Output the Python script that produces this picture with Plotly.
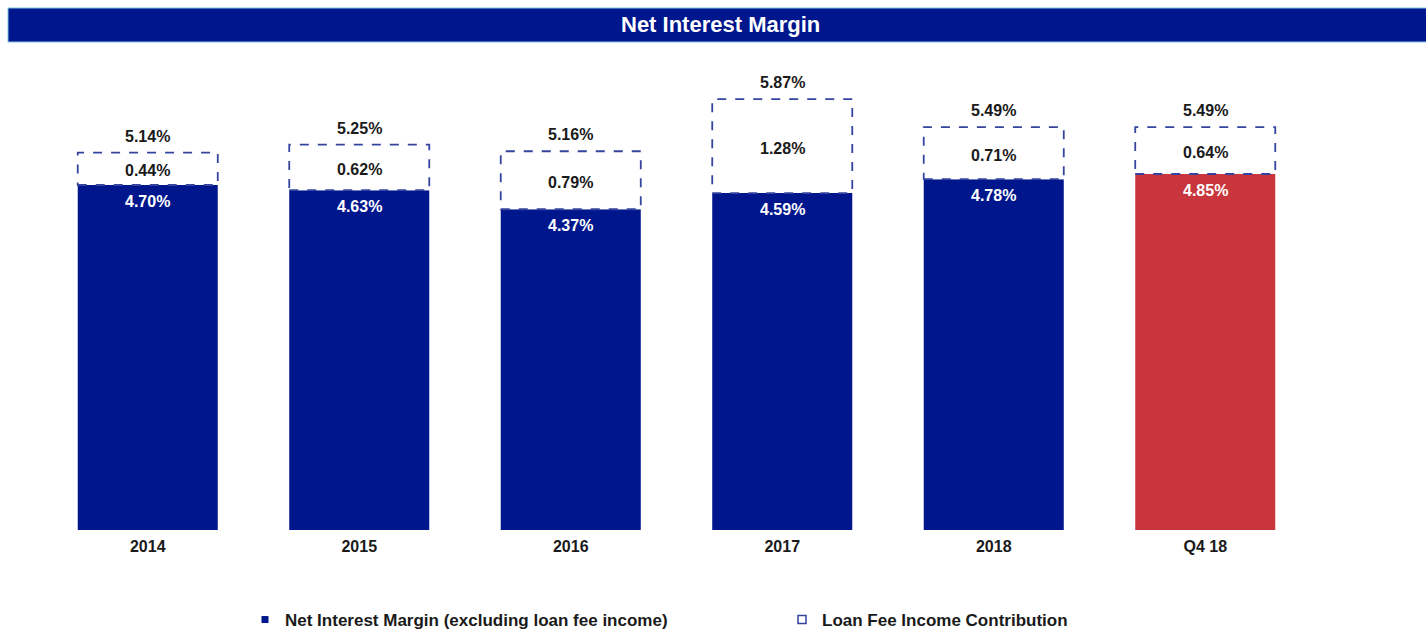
import plotly.graph_objects as go

# Net interest margin, split into the core margin and the loan-fee contribution (%)
periods = ["2014", "2015", "2016", "2017", "2018", "Q4 18"]
nim_ex_fees = [4.70, 4.63, 4.37, 4.59, 4.78, 4.85]
loan_fee_contrib = [0.44, 0.62, 0.79, 1.28, 0.71, 0.64]
total_nim = [5.14, 5.25, 5.16, 5.87, 5.49, 5.49]

NAVY = "#00168C"
RED = "#C8353C"
DASH = "#34449F"
FONT = "Liberation Sans, Arial, sans-serif"

bar_colors = [NAVY] * (len(periods) - 1) + [RED]
BAR_WIDTH = 0.662

fig = go.Figure()

fig.add_trace(go.Bar(
    x=periods, y=nim_ex_fees, name="Net Interest Margin (excluding loan fee income)",
    marker=dict(color=bar_colors, line=dict(width=0)), width=BAR_WIDTH,
    showlegend=False, hoverinfo="skip",
))
fig.add_trace(go.Bar(
    x=periods, y=loan_fee_contrib, base=nim_ex_fees, name="Loan Fee Income Contribution",
    marker=dict(color="white", line=dict(width=0)), width=BAR_WIDTH,
    showlegend=False, hoverinfo="skip",
))

# legend entries
fig.add_trace(go.Scatter(
    x=[periods[0]], y=[None], mode="markers", name="<b>Net Interest Margin (excluding loan fee income)</b>",
    marker=dict(symbol="square", size=7, color=NAVY),
))
fig.add_trace(go.Scatter(
    x=[periods[0]], y=[None], mode="markers", name="<b>Loan Fee Income Contribution</b>",
    marker=dict(symbol="square-open", size=8, color=DASH, line=dict(width=1.5)),
))

shapes = []
annotations = []
for i, (p, base, fee, tot) in enumerate(zip(periods, nim_ex_fees, loan_fee_contrib, total_nim)):
    # dashed outline around the loan-fee segment
    shapes.append(dict(
        type="rect", xref="x", yref="y",
        x0=i - BAR_WIDTH / 2, x1=i + BAR_WIDTH / 2, y0=base, y1=base + fee,
        line=dict(color=DASH, width=1.8, dash="dash"), fillcolor="rgba(0,0,0,0)",
        layer="above",
    ))
    annotations.append(dict(
        x=i, y=base, xref="x", yref="y", text=f"<b>{base:.2f}%</b>", showarrow=False,
        yanchor="top", yshift=-6, font=dict(family=FONT, size=16, color="white"),
    ))
    annotations.append(dict(
        x=i, y=base + fee / 2, xref="x", yref="y", text=f"<b>{fee:.2f}%</b>", showarrow=False,
        yanchor="middle", yshift=-2, font=dict(family=FONT, size=16, color="#1a1a1a"),
    ))
    annotations.append(dict(
        x=i, y=tot, xref="x", yref="y", text=f"<b>{tot:.2f}%</b>", showarrow=False,
        yanchor="bottom", yshift=6, font=dict(family=FONT, size=16, color="#1a1a1a"),
    ))

# header band
PLOT_L, PLOT_R, PLOT_T, PLOT_B = 42, 1311, 60, 530
pw, ph = PLOT_R - PLOT_L, PLOT_B - PLOT_T
def px_x(v):
    return (v - PLOT_L) / pw
def px_y(v):
    return (PLOT_B - v) / ph

shapes.append(dict(
    type="rect", xref="paper", yref="paper",
    x0=px_x(8), x1=px_x(1430), y0=px_y(42), y1=px_y(8),
    fillcolor=NAVY, line=dict(color="#7FC8E8", width=1), layer="above",
))
annotations.append(dict(
    x=px_x(720), y=px_y(25), xref="paper", yref="paper", text="<b>Net Interest Margin</b>",
    showarrow=False, xanchor="center", yanchor="middle",
    font=dict(family=FONT, size=22, color="white"),
))

fig.update_layout(
    width=1426, height=632,
    margin=dict(l=PLOT_L, r=1426 - PLOT_R, t=PLOT_T, b=632 - PLOT_B, autoexpand=False),
    paper_bgcolor="white", plot_bgcolor="white",
    barmode="overlay",
    shapes=shapes, annotations=annotations,
    font=dict(family=FONT),
    xaxis=dict(
        type="category", categoryorder="array", categoryarray=periods,
        range=[-0.5, len(periods) - 0.5],
        showgrid=False, zeroline=False, showline=False, ticks="",
        tickfont=dict(family=FONT, size=16, color="#1a1a1a"),
        tickprefix="<b>", ticksuffix="</b>",
        ticklabelstandoff=5,
    ),
    yaxis=dict(range=[0, ph / 73.4], visible=False, showgrid=False, zeroline=False),
    legend=dict(
        orientation="h", x=px_x(245), y=px_y(620), xanchor="left", yanchor="middle",
        font=dict(family=FONT, size=17, color="#1a1a1a"),
        entrywidth=492, entrywidthmode="pixels", itemwidth=30,
        bgcolor="rgba(0,0,0,0)",
    ),
)

fig.write_html("out.html")
